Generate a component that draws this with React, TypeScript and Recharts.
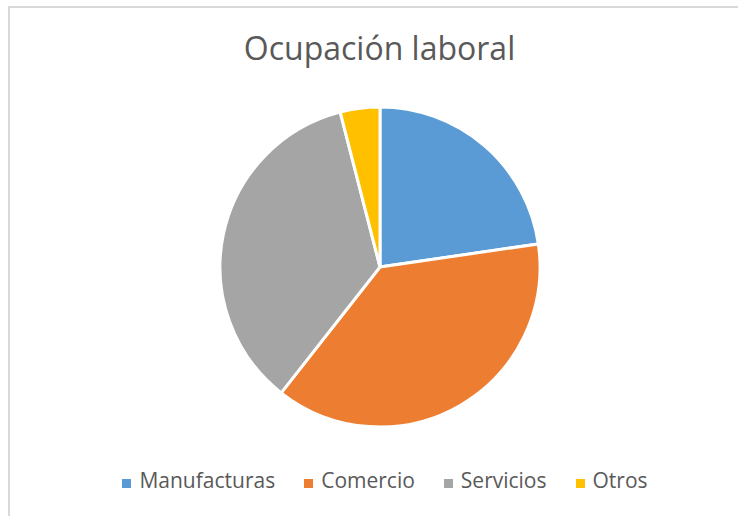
import React from "react";
import { PieChart, Pie, Cell, Legend } from "recharts";

// Ocupación laboral: shares (percent)
const categories = ["Manufacturas", "Comercio", "Servicios", "Otros"];
const shares = [22.7, 37.9, 35.4, 4.0];
const colors = ["#5B9BD5", "#ED7D31", "#A5A5A5", "#FFC000"];

const data = categories.map((name, i) => ({ name, value: shares[i] }));

const FONT = "'Open Sans', sans-serif";
const TEXT = "#595959";

// legend keeps the series order (recharts would sort it by name)
function LegendRow() {
  return (
    <div
      style={{
        display: "flex",
        justifyContent: "center",
        gap: 29,
        fontFamily: FONT,
        fontSize: 21,
        lineHeight: "24px",
        color: TEXT,
        paddingLeft: 32,
      }}
    >
      {categories.map((name, i) => (
        <div key={name} style={{ display: "flex", alignItems: "baseline" }}>
          <span
            style={{
              display: "inline-block",
              width: 9,
              height: 9,
              background: colors[i],
              marginRight: 8,
            }}
          />
          <span>{name}</span>
        </div>
      ))}
    </div>
  );
}

export default function App() {
  return (
    <div
      style={{
        position: "absolute",
        left: 0,
        top: 0,
        width: 738,
        height: 516,
        background: "#fff",
        overflow: "hidden",
      }}
    >
      <div
        style={{
          position: "absolute",
          left: 8,
          top: 6,
          width: 740,
          height: 520,
          borderLeft: "2px solid #d9d9d9",
          borderTop: "2px solid #d9d9d9",
        }}
      />
      <div
        style={{
          position: "absolute",
          left: 0,
          top: 28,
          width: 759,
          textAlign: "center",
          fontFamily: FONT,
          fontSize: 32,
          lineHeight: "40px",
          color: TEXT,
        }}
      >
        Ocupación laboral
      </div>
      <div style={{ position: "absolute", left: 0, top: 0 }}>
        <PieChart
          width={738}
          height={516}
          margin={{ top: 0, right: 0, bottom: 0, left: 0 }}
        >
          <Pie
            data={data}
            dataKey="value"
            nameKey="name"
            cx={380}
            cy={267}
            outerRadius={160}
            startAngle={90}
            endAngle={-270}
            stroke="#ffffff"
            strokeWidth={3}
            isAnimationActive={false}
          >
            {data.map((d, i) => (
              <Cell key={d.name} fill={colors[i]} />
            ))}
          </Pie>
          <Legend
            content={() => <LegendRow />}
            wrapperStyle={{ top: 468, left: 0, width: 738 }}
          />
        </PieChart>
      </div>
    </div>
  );
}
